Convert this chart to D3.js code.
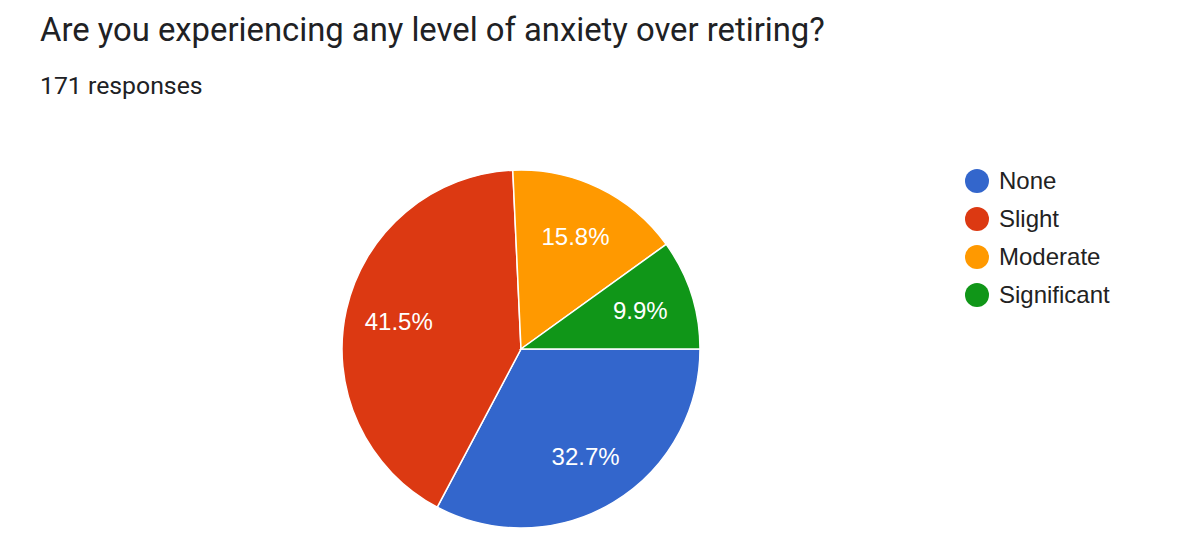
<!DOCTYPE html>
<html><head><meta charset="utf-8">
<script src="https://cdn.jsdelivr.net/npm/d3@7"></script>
<style>
body{margin:0;background:#fff;}
svg{display:block;}
</style></head>
<body>
<svg id="chart" width="1184" height="553"></svg>
<script>
const title = "Are you experiencing any level of anxiety over retiring?";
const subtitle = "171 responses";
const categories = ["None", "Slight", "Moderate", "Significant"];
const counts = [56, 71, 27, 17];
const colors = ["#3366cc", "#dc3912", "#ff9900", "#109618"];

const svg = d3.select("#chart");
const W = 1184, H = 553;
svg.append("rect").attr("width", W).attr("height", H).attr("fill", "#fff");

svg.append("text").attr("x", 40).attr("y", 41)
  .attr("font-family", "Roboto, sans-serif").attr("font-size", 32.8)
  .attr("fill", "#202124").text(title);
svg.append("text").attr("x", 40).attr("y", 93.5)
  .attr("font-family", "Roboto, sans-serif").attr("font-size", 24.8)
  .attr("fill", "#202124").text(subtitle);

const cx = 521, cy = 349, r = 179;
const total = d3.sum(counts);
const data = categories.map((c, i) => ({cat: c, value: counts[i], color: colors[i]}));
const pie = d3.pie().value(d => d.value).sort(null)
  .startAngle(Math.PI / 2).endAngle(Math.PI / 2 + 2 * Math.PI);
const arc = d3.arc().innerRadius(0).outerRadius(r);
const labelArc = d3.arc().innerRadius(r * 0.7).outerRadius(r * 0.7);

const g = svg.append("g").attr("transform", `translate(${cx},${cy})`);
const arcs = pie(data);
g.selectAll("path").data(arcs).join("path")
  .attr("d", arc).attr("fill", d => d.data.color)
  .attr("stroke", "#fff").attr("stroke-width", 1.5);

g.selectAll("text").data(arcs).join("text")
  .attr("transform", d => `translate(${labelArc.centroid(d)})`)
  .attr("text-anchor", "middle").attr("dy", "0.35em")
  .attr("font-family", "Arial, 'Liberation Sans', sans-serif").attr("font-size", 24)
  .attr("fill", "#fff")
  .text(d => (d.data.value / total * 100).toFixed(1) + "%");

const leg = svg.append("g");
const ly = d3.scalePoint().domain(categories).range([181, 295]);
const items = leg.selectAll("g").data(data).join("g")
  .attr("transform", d => `translate(977,${ly(d.cat)})`);
items.append("circle").attr("r", 12).attr("fill", d => d.color);
items.append("text").attr("x", 22).attr("dy", "0.35em")
  .attr("font-family", "Arial, 'Liberation Sans', sans-serif").attr("font-size", 24)
  .attr("fill", "#222").text(d => d.cat);
</script>
</body></html>
